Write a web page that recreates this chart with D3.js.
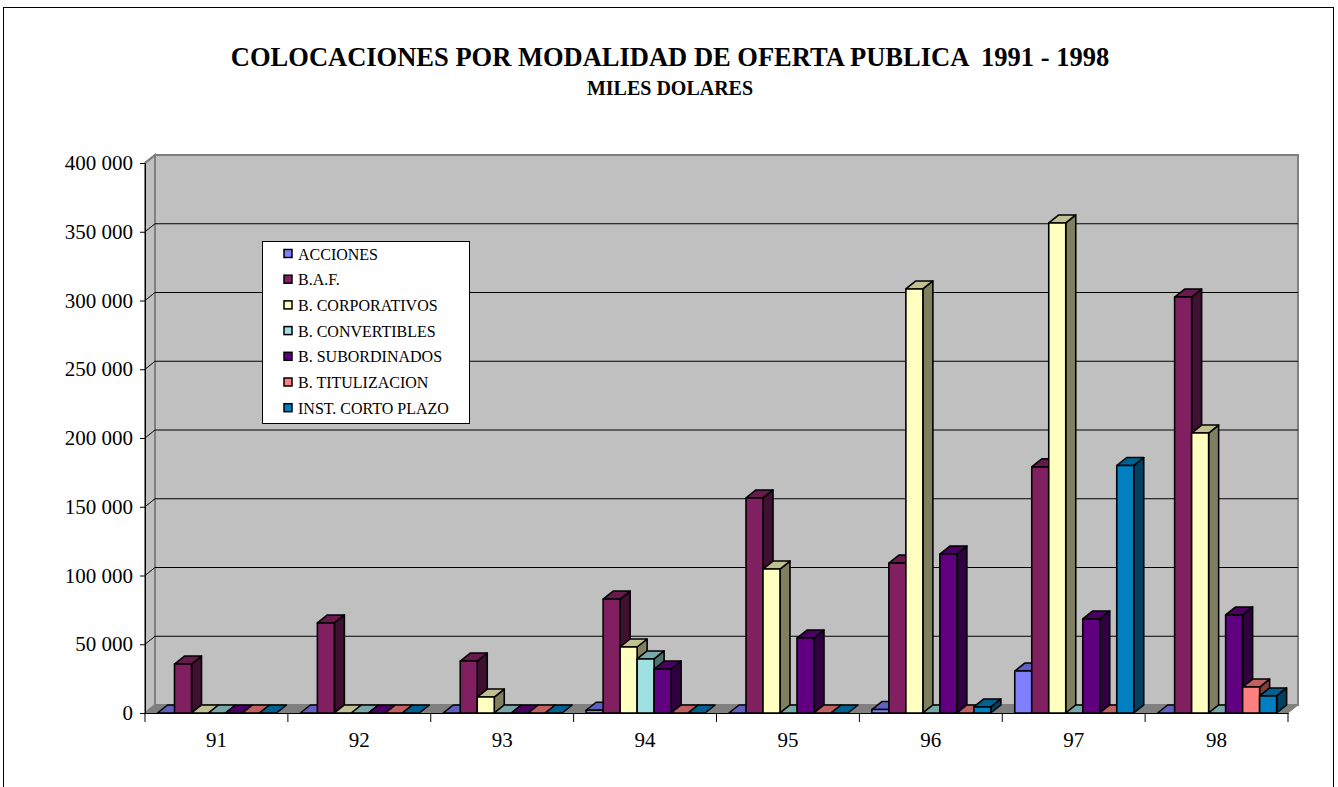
<!DOCTYPE html>
<html>
<head>
<meta charset="utf-8">
<script src="https://cdn.jsdelivr.net/npm/d3@7"></script>
<style>
body { margin: 0; background: #fff; }
text { font-family: "Liberation Serif", "Times New Roman", serif; }
</style>
</head>
<body>
<svg id="chart" width="1338" height="787"></svg>
<script>
var years   = ["91", "92", "93", "94", "95", "96", "97", "98"];
var series  = ["ACCIONES", "B.A.F.", "B. CORPORATIVOS", "B. CONVERTIBLES",
               "B. SUBORDINADOS", "B. TITULIZACION", "INST. CORTO PLAZO"];
var acciones     = [0, 0, 0, 2000, 0, 2500, 30500, 0];
var baf          = [35600, 65500, 37800, 82900, 156400, 109000, 179000, 302500];
var corporativos = [0, 0, 11600, 48000, 104700, 308400, 356400, 203600];
var convertibles = [0, 0, 0, 39300, 0, 0, 0, 0];
var subordinados = [0, 0, 0, 32000, 54500, 115600, 68400, 71300];
var titulizacion = [0, 0, 0, 0, 0, 0, 0, 18900];
var cortoPlazo   = [0, 0, 0, 0, 0, 4400, 180000, 12400];
var yTicks = [0, 50000, 100000, 150000, 200000, 250000, 300000, 350000, 400000];

var values = [acciones, baf, corporativos, convertibles, subordinados, titulizacion, cortoPlazo];

// face colours: front, top, side
var colors = [
    ["#8080FF", "#6060C0", "#404080"],
    ["#802060", "#681a4e", "#401030"],
    ["#FFFFC0", "#C0C090", "#808060"],
    ["#A0E0E0", "#78A8A8", "#507070"],
    ["#600080", "#4a0062", "#300040"],
    ["#FF8080", "#C06060", "#804040"],
    ["#0080C0", "#006090", "#004060"]
];

var svg = d3.select("#chart");
var dx = 10, dy = -8;     // depth offset
var pLeft = 145, pRight = 1288, pBottom = 713, pTop = 163;

var y  = d3.scaleLinear().domain([0, 400000]).range([pBottom, pTop]);
var x0 = d3.scaleBand().domain(years).range([pLeft, pRight]);
var x1 = d3.scaleBand().domain(series).range([12.5, 12.5 + 7 * 17]);

// outer frame
svg.append("rect")
    .attr("x", 3.5).attr("y", 7.5)
    .attr("width", 1330).attr("height", 800)
    .attr("fill", "#fff").attr("stroke", "#000");

// title
svg.append("text")
    .attr("x", 670).attr("y", 66)
    .attr("text-anchor", "middle")
    .attr("font-size", 26.5).attr("font-weight", "bold")
    .style("white-space", "pre")
    .text("COLOCACIONES POR MODALIDAD DE OFERTA PUBLICA  1991 - 1998");
svg.append("text")
    .attr("x", 670).attr("y", 95)
    .attr("text-anchor", "middle")
    .attr("font-size", 20).attr("font-weight", "bold")
    .text("MILES DOLARES");

// walls
var pt = function(a) { return a.map(function(p) { return p[0] + "," + p[1]; }).join(" "); };
svg.append("polygon")
    .attr("points", pt([[pLeft + dx, pTop + dy], [pRight + dx, pTop + dy], [pRight + dx, pBottom + dy], [pLeft + dx, pBottom + dy]]))
    .attr("fill", "#C0C0C0").attr("stroke", "#808080").attr("stroke-width", 2);
svg.append("polygon")
    .attr("points", pt([[pLeft, pTop], [pLeft + dx, pTop + dy], [pLeft + dx, pBottom + dy], [pLeft, pBottom]]))
    .attr("fill", "#C0C0C0").attr("stroke", "#808080").attr("stroke-width", 2);
svg.append("polygon")
    .attr("points", pt([[pLeft, pBottom], [pLeft + dx, pBottom + dy], [pRight + dx, pBottom + dy], [pRight, pBottom]]))
    .attr("fill", "#808080").attr("stroke", "#808080").attr("stroke-width", 1);

// gridlines
yTicks.slice(1).forEach(function(v) {
    svg.append("polyline")
        .attr("points", pt([[pLeft, y(v)], [pLeft + dx, y(v) + dy], [pRight + dx, y(v) + dy]]))
        .attr("fill", "none")
        .attr("stroke", v == 400000 ? "#808080" : "#000")
        .attr("stroke-width", v == 400000 ? 2 : 1);
});

// bars
var bars = svg.append("g");
years.forEach(function(yr, i) {
    series.forEach(function(s, k) {
        var v  = values[k][i];
        var xa = x0(yr) + x1(s), xb = xa + x1.bandwidth();
        var yt = y(v);
        var c  = colors[k];
        var g  = bars.append("g")
            .attr("stroke", "#000").attr("stroke-width", 1.6).attr("stroke-linejoin", "round");
        if (v > 0) {
            g.append("polygon")
                .attr("points", pt([[xb, yt], [xb + dx, yt + dy], [xb + dx, pBottom + dy], [xb, pBottom]]))
                .attr("fill", c[2]);
        }
        g.append("polygon")
            .attr("points", pt([[xa, yt], [xa + dx, yt + dy], [xb + dx, yt + dy], [xb, yt]]))
            .attr("fill", c[1]);
        if (v > 0) {
            g.append("rect")
                .attr("x", xa).attr("y", yt)
                .attr("width", xb - xa).attr("height", pBottom - yt)
                .attr("fill", c[0]);
        }
    });
});

// value axis
var yAxis = svg.append("g")
    .attr("transform", "translate(" + pLeft + ",0)")
    .call(d3.axisLeft(y).tickValues(yTicks).tickSize(5).tickPadding(7)
        .tickFormat(function(d) { return d3.format(",")(d).replace(/,/g, " "); }));
yAxis.select(".domain").attr("stroke", "#000");
yAxis.selectAll("text").attr("font-size", 21).attr("fill", "#000")
    .style("font-family", "Liberation Serif");

// category axis
var xAxis = svg.append("g")
    .attr("transform", "translate(0," + pBottom + ")")
    .call(d3.axisBottom(x0).tickSize(0).tickPadding(19));
xAxis.select(".domain").attr("stroke", "#000");
xAxis.selectAll("text").attr("font-size", 21).attr("fill", "#000")
    .style("font-family", "Liberation Serif");
xAxis.selectAll(".sep")
    .data(years.concat(["end"]))
    .enter().append("line")
        .attr("x1", function(d, i) { return pLeft + i * x0.bandwidth(); })
        .attr("x2", function(d, i) { return pLeft + i * x0.bandwidth(); })
        .attr("y1", 0).attr("y2", 9)
        .attr("stroke", "#000");

// legend
var legend = svg.append("g").attr("transform", "translate(262,241)");
legend.append("rect")
    .attr("x", 0.5).attr("y", 0.5)
    .attr("width", 207).attr("height", 182)
    .attr("fill", "#fff").attr("stroke", "#000");
series.forEach(function(s, k) {
    var ly = 13 + k * 25.7;
    legend.append("rect")
        .attr("x", 22).attr("y", ly - 4.5)
        .attr("width", 8).attr("height", 8)
        .attr("fill", colors[k][0]).attr("stroke", "#000").attr("stroke-width", 1.5);
    legend.append("text")
        .attr("x", 36).attr("y", ly + 5.5)
        .attr("font-size", 16)
        .text(s);
});
</script>
</body>
</html>
